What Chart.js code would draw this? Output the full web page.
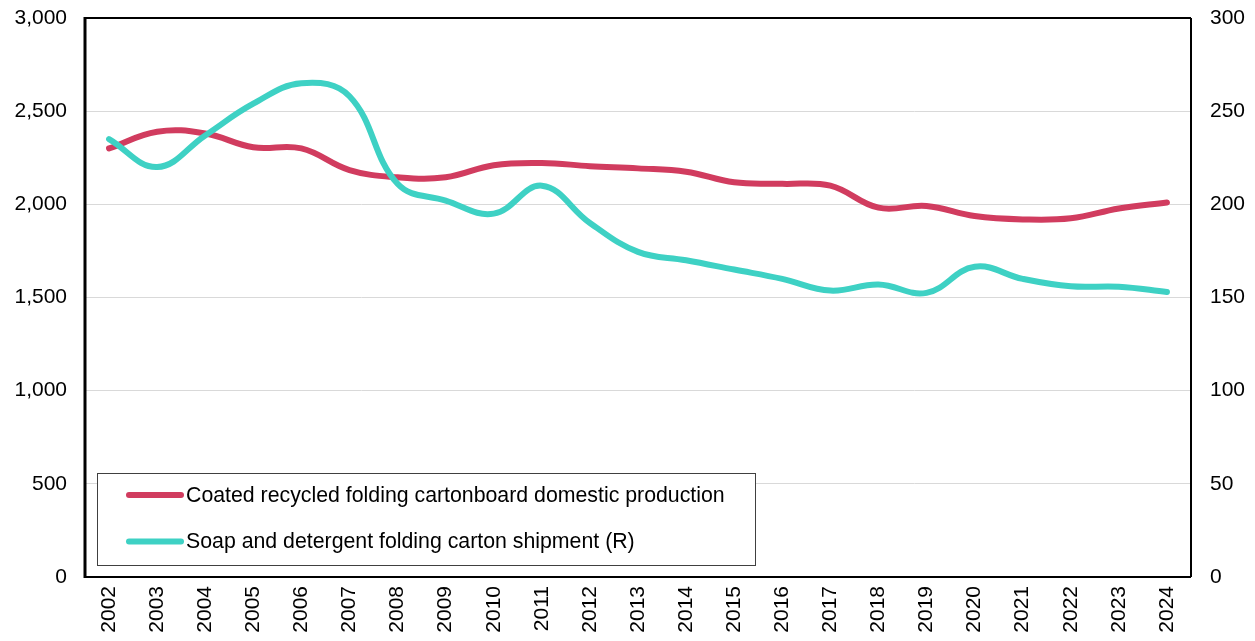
<!DOCTYPE html>
<html>
<head>
<meta charset="utf-8">
<script src="https://cdn.jsdelivr.net/npm/chart.js@4/dist/chart.umd.min.js"></script>
<style>
  html, body { margin: 0; padding: 0; background: #fff; }
  #wrap { width: 1255px; height: 641px; position: relative; }
</style>
</head>
<body>
<div id="wrap"><canvas id="c" width="1255" height="641"></canvas></div>
<script>
// Years on the category axis
const years = ['2002','2003','2004','2005','2006','2007','2008','2009','2010','2011','2012',
  '2013','2014','2015','2016','2017','2018','2019','2020','2021','2022','2023','2024'];

// Coated recycled folding cartonboard domestic production (left axis)
const cartonboardProduction = [2300, 2390, 2380, 2306, 2300, 2184, 2145, 2145, 2210, 2222, 2205,
  2193, 2175, 2118, 2110, 2100, 1982, 1991, 1937, 1919, 1925, 1978, 2010];

// Soap and detergent folding carton shipment (right axis)
const soapCartonShipment = [235, 220, 237, 254, 265, 258, 211, 202, 195, 210, 190,
  174.5, 170, 165, 160, 153.7, 157, 152.5, 166.5, 160, 156, 155.8, 153];

const seriesNames = [
  'Coated recycled folding cartonboard domestic production',
  'Soap and detergent folding carton shipment (R)'
];

const leftTicks = { min: 0, max: 3000, step: 500 };
const rightTicks = { min: 0, max: 300, step: 50 };

const FONT = "'Liberation Sans', Arial, sans-serif";
const RED = '#d13c5f';
const TEAL = '#3ed1c4';

// Keep the plot area edges where the layout padding puts them
function trimPadding(s) {
  s.paddingTop = 0; s.paddingBottom = 0; s.paddingLeft = 0; s.paddingRight = 0;
}

// Frame around the plot area, drawn beneath the lines
const framePlugin = {
  id: 'frame',
  beforeDatasetsDraw(chart) {
    const { ctx, chartArea: a } = chart;
    ctx.save();
    ctx.strokeStyle = '#000';
    ctx.lineWidth = 2;
    ctx.beginPath();
    ctx.moveTo(a.left, a.top); ctx.lineTo(a.right, a.top);
    ctx.moveTo(a.right, a.top); ctx.lineTo(a.right, a.bottom);
    ctx.moveTo(a.left, a.bottom); ctx.lineTo(a.right, a.bottom);
    ctx.stroke();
    ctx.lineWidth = 3;
    ctx.beginPath();
    ctx.moveTo(a.left, a.top - 1); ctx.lineTo(a.left, a.bottom + 1);
    ctx.stroke();
    ctx.restore();
  }
};

// Boxed key inside the lower-left of the plot area
const keyPlugin = {
  id: 'insetKey',
  afterDatasetsDraw(chart) {
    const { ctx, chartArea: a } = chart;
    const boxX = a.left + 12, boxW = 658, boxH = 92;
    const boxY = a.bottom - 12 - boxH;
    ctx.save();
    ctx.fillStyle = '#fff';
    ctx.fillRect(boxX, boxY, boxW, boxH);
    ctx.strokeStyle = '#404040';
    ctx.lineWidth = 1;
    ctx.strokeRect(boxX + 0.5, boxY + 0.5, boxW, boxH);
    const rows = [22, 68.5];
    chart.data.datasets.forEach((ds, i) => {
      const y = boxY + rows[i];
      ctx.strokeStyle = ds.borderColor;
      ctx.lineWidth = 6;
      ctx.lineCap = 'round';
      ctx.beginPath();
      ctx.moveTo(boxX + 32, y);
      ctx.lineTo(boxX + 84, y);
      ctx.stroke();
      ctx.fillStyle = '#000';
      ctx.font = '21.3px ' + FONT;
      ctx.textBaseline = 'middle';
      ctx.textAlign = 'left';
      ctx.fillText(ds.label, boxX + 89, y + 1);
    });
    ctx.restore();
  }
};

new Chart(document.getElementById('c'), {
  type: 'line',
  data: {
    labels: years,
    datasets: [
      {
        label: seriesNames[0],
        data: cartonboardProduction,
        yAxisID: 'yL',
        borderColor: RED,
        backgroundColor: RED,
        borderWidth: 6,
        borderCapStyle: 'round',
        borderJoinStyle: 'round',
        pointRadius: 0,
        tension: 0.4,
        order: 2
      },
      {
        label: seriesNames[1],
        data: soapCartonShipment,
        yAxisID: 'yR',
        borderColor: TEAL,
        backgroundColor: TEAL,
        borderWidth: 6,
        borderCapStyle: 'round',
        borderJoinStyle: 'round',
        pointRadius: 0,
        tension: 0.4,
        order: 1
      }
    ]
  },
  options: {
    responsive: false,
    animation: false,
    layout: { padding: { top: 18, left: 0, right: 0, bottom: 0 } },
    plugins: { legend: { display: false }, tooltip: { enabled: false } },
    scales: {
      x: {
        offset: true,
        grid: { display: false, drawTicks: false },
        border: { display: false },
        ticks: {
          color: '#000',
          font: { family: FONT, size: 21 },
          minRotation: 90, maxRotation: 90,
          autoSkip: false,
          padding: 9
        },
        afterFit(s) { s.height = 64; trimPadding(s); }
      },
      yL: {
        position: 'left',
        min: leftTicks.min, max: leftTicks.max,
        grid: { color: '#d9d9d9', lineWidth: 1, drawTicks: false },
        border: { display: false },
        ticks: {
          stepSize: leftTicks.step,
          color: '#000',
          font: { family: FONT, size: 21 },
          padding: 18,
          callback: v => v.toLocaleString('en-US')
        },
        afterFit(s) { s.width = 85; trimPadding(s); }
      },
      yR: {
        position: 'right',
        min: rightTicks.min, max: rightTicks.max,
        grid: { display: false, drawTicks: false },
        border: { display: false },
        ticks: {
          stepSize: rightTicks.step,
          color: '#000',
          font: { family: FONT, size: 21 },
          padding: 19
        },
        afterFit(s) { s.width = 64; trimPadding(s); }
      }
    }
  },
  plugins: [framePlugin, keyPlugin]
});
</script>
</body>
</html>
